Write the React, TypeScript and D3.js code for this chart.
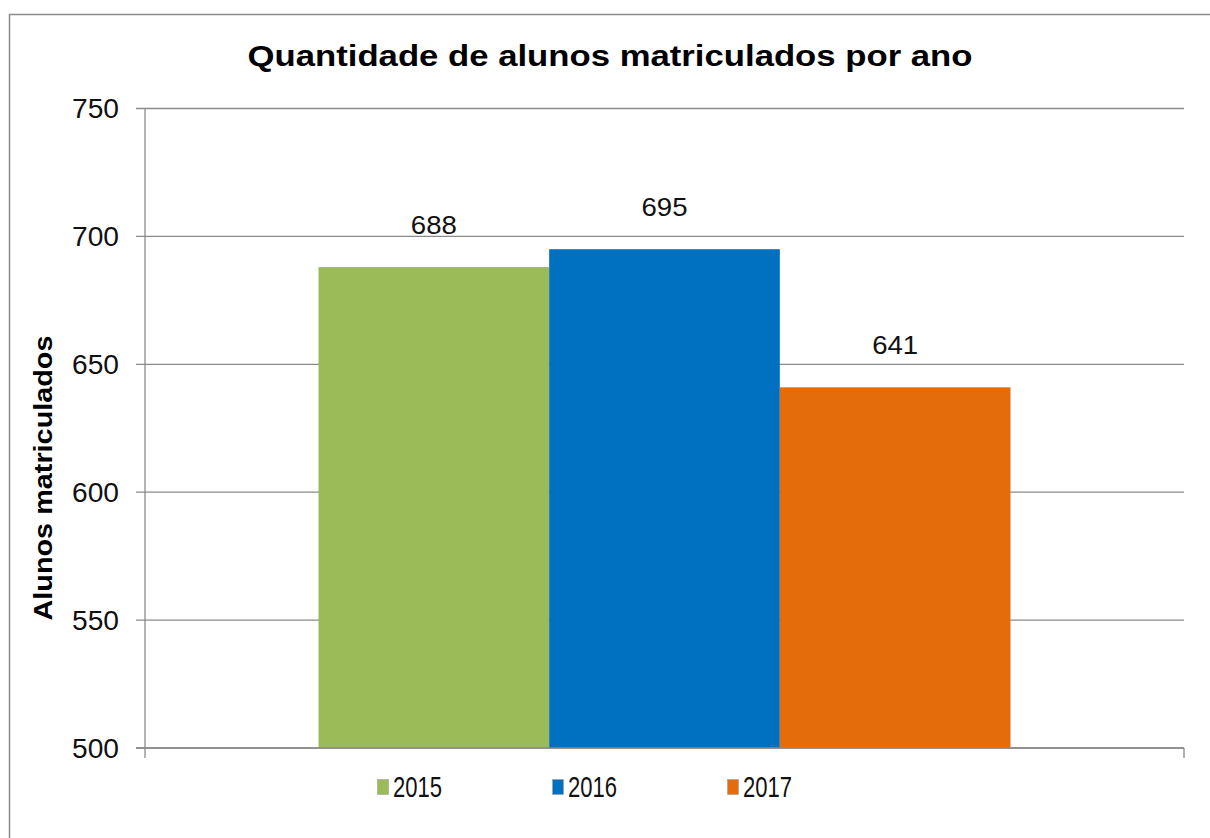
import React from "react";
import * as d3 from "d3";

const title = "Quantidade de alunos matriculados por ano";
const yAxisLabel = "Alunos matriculados";
const series = ["2015", "2016", "2017"];
const values = [688, 695, 641];
const colors = ["#9BBB59", "#0070C0", "#E46C0A"];
const yTicks = [500, 550, 600, 650, 700, 750];

export default function App() {
  const W = 1210, H = 838;
  const left = 145, right = 1184, top = 108.5, bottom = 748;
  const y = d3.scaleLinear().domain([500, 750]).range([bottom, top]);
  const group = d3.scaleBand().domain(["g"]).range([left, right]).paddingInner(0).paddingOuter(0.2);
  const x = d3.scaleBand().domain(series).range([group("g")! + (group.bandwidth() - 692) / 2, group("g")! + (group.bandwidth() + 692) / 2]);
  const font = "'Liberation Sans', Arial, sans-serif";
  const legendX = [377, 552, 727];
  return (
    <svg width={W} height={H} style={{ position: "absolute", left: 0, top: 0 }} fontFamily={font}>
      <rect x={0} y={0} width={W} height={H} fill="#fff" />
      <path d={`M9.5,${H} V14.5 H${W}`} fill="none" stroke="#8c8c8c" strokeWidth={1.5} />
      <text x={610} y={66} textAnchor="middle" fontSize={30} fontWeight="bold" textLength={725} lengthAdjust="spacingAndGlyphs" fill="#000">{title}</text>
      {yTicks.map((t) => (
        <g key={t}>
          <line x1={136} x2={right} y1={y(t)} y2={y(t)} stroke="#8a8a8a" strokeWidth={1.3} />
          <text x={119} y={y(t) + 9.5} textAnchor="end" fontSize={27} textLength={47} lengthAdjust="spacingAndGlyphs" fill="#111">{t}</text>
        </g>
      ))}
      {series.map((s, i) => (
        <g key={s}>
          <rect x={x(s)!} y={y(values[i])} width={x.bandwidth()} height={bottom - y(values[i])} fill={colors[i]} />
          <text x={x(s)! + x.bandwidth() / 2} y={y(values[i]) - 33} textAnchor="middle" fontSize={26} textLength={46} lengthAdjust="spacingAndGlyphs" fill="#111">{values[i]}</text>
        </g>
      ))}
      <line x1={left} x2={left} y1={top} y2={758} stroke="#8a8a8a" strokeWidth={1.3} />
      <line x1={136} x2={right} y1={bottom} y2={bottom} stroke="#8a8a8a" strokeWidth={1.3} />
      <line x1={right} x2={right} y1={bottom} y2={758} stroke="#8a8a8a" strokeWidth={1.3} />
      <text transform={`translate(52,478) rotate(-90)`} textAnchor="middle" fontSize={26} fontWeight="bold" textLength={285} lengthAdjust="spacingAndGlyphs" fill="#000">{yAxisLabel}</text>
      {series.map((s, i) => (
        <g key={"lg" + s}>
          <rect x={legendX[i] + 0.5} y={779.5} width={11} height={15} fill={colors[i]} stroke="#a0a0a0" strokeWidth={0.6} />
          <text x={legendX[i] + 16} y={797} fontSize={30} textLength={49} lengthAdjust="spacingAndGlyphs" fill="#111">{s}</text>
        </g>
      ))}
    </svg>
  );
}
